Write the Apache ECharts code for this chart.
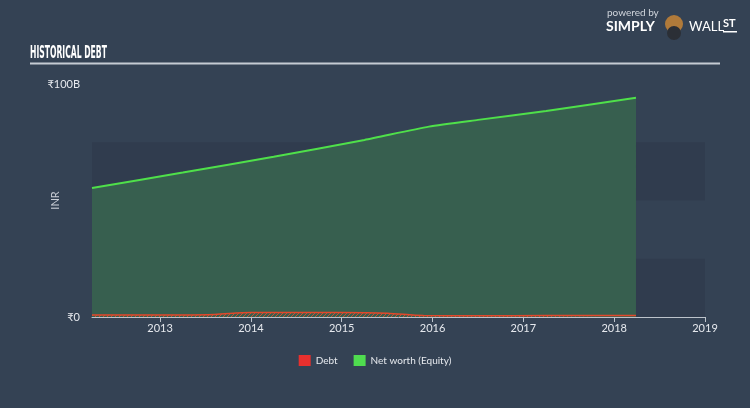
<!DOCTYPE html>
<html>
<head>
<meta charset="utf-8">
<script src="https://cdn.jsdelivr.net/npm/echarts@6/dist/echarts.min.js"></script>
<style>
html,body{margin:0;padding:0;background:#344254;}
#c{width:750px;height:408px;}
</style>
</head>
<body>
<div id="c"></div>
<script>
// Data (x = fractional year, y = INR billions)
var netWorthX = [2012.25, 2013.25, 2014.25, 2015.25, 2015.96, 2016.5, 2017.25, 2018.24];
var netWorthY = [55.4, 62.0, 68.8, 76.0, 81.7, 84.6, 88.4, 94.1];
var debtX = [2012.25, 2013.25, 2013.6, 2014.0, 2015.0, 2015.5, 2015.9, 2016.5, 2017.25, 2018.24];
var debtY = [0.9, 0.9, 1.1, 1.9, 1.9, 1.6, 0.6, 0.5, 0.6, 0.6];
var yearTicks = [2013, 2014, 2015, 2016, 2017, 2018, 2019];
var legendNames = ['Debt', 'Net worth (Equity)'];

function pairs(xs, ys){ return xs.map(function(x,i){ return [x, ys[i]]; }); }

// hatch pattern for debt area
var pc = document.createElement('canvas');
pc.width = 4; pc.height = 4;
var g = pc.getContext('2d');
g.fillStyle = 'rgba(55,95,79,1)';
g.fillRect(0,0,4,4);
g.strokeStyle = 'rgba(225,80,45,0.85)';
g.lineWidth = 1;
g.beginPath(); g.moveTo(0,4); g.lineTo(4,0); g.stroke();

var FONT = 'Lato, "Open Sans", sans-serif';

var chart = echarts.init(document.getElementById('c'), null, {renderer:'canvas'});
chart.setOption({
  backgroundColor: '#344254',
  animation: false,
  grid: {left: 92, right: 45, top: 84, bottom: 91, containLabel: false},
  graphic: [
    {type:'text', x: 30, y: 45, scaleX: 0.5, style:{text:'HISTORICAL DEBT', fill:'#ffffff', font:'bold 17px "DejaVu Sans Condensed", sans-serif'}},
    {type:'rect', shape:{x:30, y:62.5, width:690, height:2}, style:{fill:'#c5cbd3'}},
    {type:'text', x: 607, y: 8, style:{text:'powered by', fill:'#d0d5dc', font:'10px ' + FONT}},
    {type:'text', x: 606, y: 19, style:{text:'SIMPLY', fill:'#ffffff', font:'bold 14px ' + FONT}},
    {type:'circle', shape:{cx:674, cy:24, r:9}, style:{fill:'#b07a3a'}},
    {type:'circle', shape:{cx:674, cy:33, r:7}, style:{fill:'#2b2f36'}},
    {type:'text', x: 689, y: 20, style:{text:'WALL', fill:'#ffffff', font:'13px ' + FONT}},
    {type:'text', x: 723, y: 18, style:{text:'ST', fill:'#ffffff', font:'bold 11px ' + FONT}},
    {type:'rect', shape:{x:723, y:31, width:14, height:1.5}, style:{fill:'#ffffff'}}
  ],
  legend: {
    data: [
      {name: legendNames[0], itemStyle:{color:'#e8302e'}},
      {name: legendNames[1], itemStyle:{color:'#4fdc4f'}}
    ],
    top: 350, left: 'center',
    icon: 'rect', itemWidth: 12, itemHeight: 11, itemGap: 16,
    textStyle: {color:'#e6e9ee', fontSize: 10, fontFamily: FONT}
  },
  xAxis: {
    type: 'value', min: 2012.25, max: 2019,
    axisLine: {show:true, lineStyle:{color:'#bcc3cb', width:1}},
    axisTick: {show:true, length:5, lineStyle:{color:'#bcc3cb'}, customValues: yearTicks},
    axisLabel: {color:'#e6e9ee', fontSize: 11, margin: 6, fontFamily: FONT, customValues: yearTicks, formatter: function(v){return String(v);}},
    splitLine: {show:false}
  },
  yAxis: {
    type: 'value', min: 0, max: 100, interval: 25,
    name: 'INR', nameLocation: 'middle', nameGap: 31, nameRotate: 90, nameMoveOverlap: false,
    nameTextStyle: {color:'#c9ced6', fontSize: 11, fontFamily: FONT},
    axisLine: {show:false}, axisTick: {show:false},
    axisLabel: {color:'#e6e9ee', fontSize: 11, margin: 12, fontFamily: FONT,
      formatter: function(v){ return v === 0 ? '₹0' : (v === 100 ? '₹100B' : ''); }},
    splitLine: {show:false},
    splitArea: {show:true, areaStyle:{color:['#303c4e','rgba(0,0,0,0)']}}
  },
  series: [
    {
      name: legendNames[1], type: 'line', smooth: 0.2, showSymbol: false,
      data: pairs(netWorthX, netWorthY),
      lineStyle: {color:'#4fe04a', width: 2},
      itemStyle: {color:'#4fdc4f'},
      areaStyle: {color:'#375f4f', opacity: 1},
      z: 2
    },
    {
      name: legendNames[0], type: 'line', smooth: 0.3, showSymbol: false,
      data: pairs(debtX, debtY),
      lineStyle: {color:'#e2482b', width: 1.5},
      itemStyle: {color:'#e8302e'},
      areaStyle: {color: {image: pc, repeat: 'repeat'}, opacity: 1},
      z: 3
    }
  ]
});
</script>
</body>
</html>
